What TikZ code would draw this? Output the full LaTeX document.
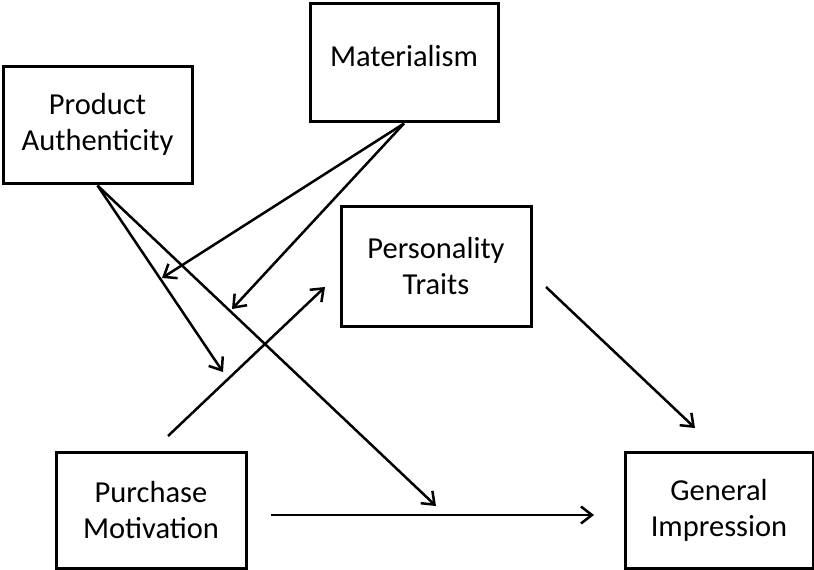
\documentclass[tikz,border=0pt]{standalone}
\usepackage{fontspec}
\setmainfont{Carlito}
\usetikzlibrary{arrows.meta}

\tikzset{
  varbox/.style={draw, line width=3pt, align=center, inner sep=0pt,
    font=\fontsize{30.5}{36}\selectfont},
  path arrow/.style={line width=2.5pt, -{Straight Barb[length=11pt,width=17pt,line width=2.5pt]}}
}

\begin{document}
\begin{tikzpicture}[x=1pt,y=-1pt]
\useasboundingbox (0,0) rectangle (814,570);

% variables
\node[varbox, minimum width=188pt, minimum height=118pt] (mat) at (404,62) {};
\node[font=\fontsize{30.5}{36}\selectfont] (matlabel) at (404,56) {Materialism};
\node[varbox, minimum width=189pt, minimum height=117pt] (auth) at (97.5,124.5) {Product\\Authenticity};
\node[varbox, minimum width=190pt, minimum height=120pt] (pers) at (436,266) {Personality\\Traits};
\node[varbox, minimum width=190pt, minimum height=116pt] (purch) at (151,510) {Purchase\\Motivation};
\node[varbox, minimum width=188pt, minimum height=116pt] (gen) at (719,510) {General\\Impression};

% free ends of the paths
\coordinate (modA) at (162,278);
\coordinate (modB) at (232,309);
\coordinate (authA) at (223,372);
\coordinate (authB) at (436,506);
\coordinate (purchUp) at (168,436);
\coordinate (persIn) at (325,287);
\coordinate (persOut) at (546,287);
\coordinate (genIn) at (695,428);
\coordinate (mainL) at (271,515);
\coordinate (mainR) at (594,515);

% paths
\draw[path arrow] ([yshift=-1pt]mat.south) -- (modA);
\draw[path arrow] ([yshift=-1pt]mat.south) -- (modB);
\draw[path arrow] ([yshift=-1pt]auth.south) -- (authA);
\draw[path arrow] ([yshift=-1pt]auth.south) -- (authB);
\draw[path arrow] (purchUp) -- (persIn);
\draw[path arrow] (persOut) -- (genIn);
\draw[path arrow] (mainL) -- (mainR);
\end{tikzpicture}
\end{document}
